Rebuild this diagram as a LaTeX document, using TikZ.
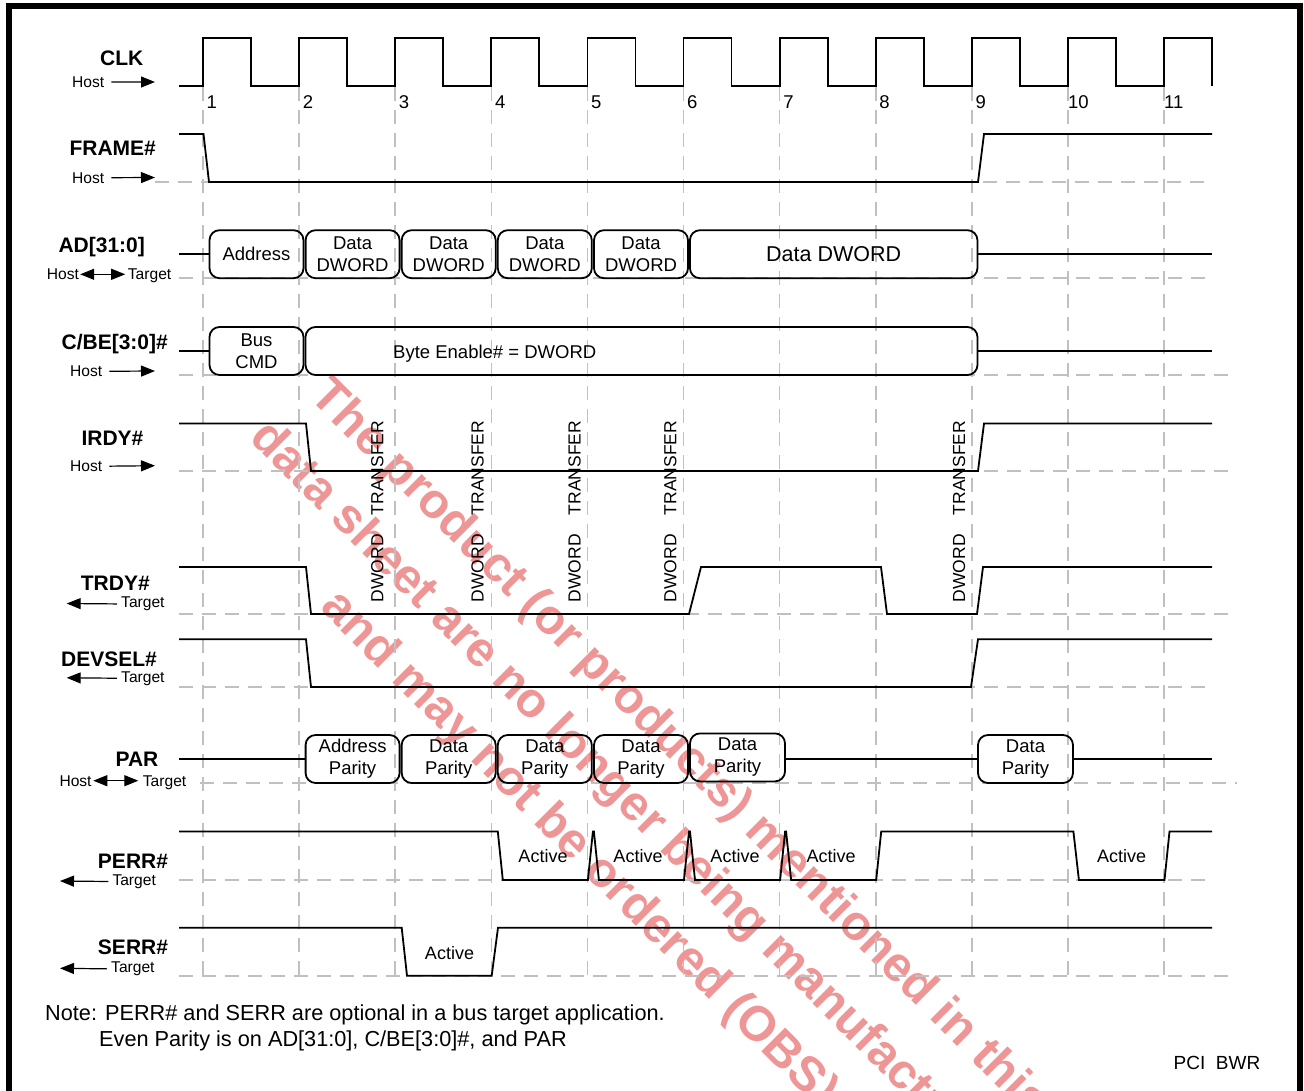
\documentclass[tikz,border=0pt]{standalone}
\usepackage{fontspec}
\setmainfont{Liberation Sans}
\usetikzlibrary{arrows.meta}

\definecolor{gridgray}{RGB}{192,192,192}
\definecolor{wmred}{RGB}{238,150,150}

\tikzset{
    sig/.style={line width=1.8pt},
    gridline/.style={draw=gridgray, line width=1.6pt, dash pattern=on 14pt off 9pt},
    busbox/.style={draw, line width=1.8pt, rounded corners=10pt, minimum height=48pt,
        inner sep=0pt, align=center, font=\fontsize{18.5}{22}\selectfont},
    sname/.style={inner sep=0pt, anchor=base, font=\fontsize{21}{25}\selectfont\bfseries},
    sdir/.style={inner sep=0pt, anchor=base west, font=\fontsize{15.6}{19}\selectfont},
    harrow/.style={line width=1.2pt, -{Triangle[length=14pt, width=11pt]}},
    hharrow/.style={line width=1.2pt, {Triangle[length=14pt, width=11pt]}-{Triangle[length=14pt, width=11pt]}},
    cnum/.style={inner sep=0pt, anchor=base west, font=\fontsize{18.5}{22}\selectfont},
    actlbl/.style={inner sep=0pt, font=\fontsize{18}{22}\selectfont},
    xfer/.style={inner sep=0pt, rotate=90, font=\fontsize{17.5}{21}\selectfont},
    notetext/.style={inner sep=0pt, anchor=base west, font=\fontsize{21.7}{26}\selectfont},
    wmtext/.style={inner sep=0pt, anchor=base, rotate=-45, text=wmred, font=\fontsize{49}{58}\selectfont\bfseries},
    declare function={clkx(\k)=203+96.1*(\k-1);}
}

\begin{document}
\begin{tikzpicture}[x=1pt, y=-1pt]
        \useasboundingbox (0,0) rectangle (1304,1091);
        \clip (0,0) rectangle (1304,1091);

        \node[wmtext] (wm1) at (669.7,758.8) {The product (or products) mentioned in this};
        \node[wmtext] (wm2) at (618.8,809.7) {data sheet are no longer being manufactured};
        \node[wmtext] (wm3) at (569.3,859.2) {and may not be ordered (OBS)};

        \foreach \k in {1,...,11}
            \draw[gridline] ({clkx(\k)},87) -- ({clkx(\k)},976);
        \foreach \yy/\xa/\xb in {182/155/1212, 278/179/1212, 375/179/1237, 471/179/1237,
                614/179/1237, 687/179/1212, 783/200/1237, 880/179/1212, 976/179/1237}
            \draw[gridline] (\xa,\yy) -- (\xb,\yy);

        \draw[sig] (179,86) \foreach \k in {1,...,11} { -- ({clkx(\k)},86) -- ++(0,-48) -- ++(48.05,0) -- ++(0,48) };
        \foreach \k in {1,...,11}
            \node[cnum] (num\k) at ({clkx(\k)+(\k<10 ? 3.5 : 0)},108.5) {\k};

        \node[sname] (clk) at (121.7,66) {CLK};
        \node[sdir] (clkhost) at (72,87.3) {Host};
        \coordinate (clktip) at (155,82);
        \draw[harrow, shorten <=7pt] (clkhost) -- (clktip);

        \node[sname] (frame) at (112.7,156) {FRAME\#};
        \node[sdir] (framehost) at (72,183.1) {Host};
        \coordinate (frametip) at (155,177.5);
        \draw[harrow, shorten <=7pt] (framehost) -- (frametip);
        \draw[sig] (179,134) -- (203.5,134) -- (209,182) -- (978,182) -- (984,134) -- (1212,134);

        \node[sname] (ad) at (101.7,253) {AD[31:0]};
        \node[sdir] (adhost) at (46.7,279.6) {Host};
        \node[sdir] (adtgt) at (127.7,279.6) {Target};
        \draw[hharrow, shorten <=1pt, shorten >=2.5pt] (adhost.east) -- (adhost.east -| adtgt.west);
        \coordinate (adstart) at (179,254.2);
        \coordinate (adend) at (1212,254.2);
        \node[busbox, minimum width=94] (ad1) at (256.5,254.2) {Address};
        \node[busbox, minimum width=94] (ad2) at (352.6,254.2) {Data\\DWORD};
        \node[busbox, minimum width=94] (ad3) at (448.7,254.2) {Data\\DWORD};
        \node[busbox, minimum width=94] (ad4) at (544.8,254.2) {Data\\DWORD};
        \node[busbox, minimum width=94] (ad5) at (641.0,254.2) {Data\\DWORD};
        \node[busbox, minimum width=287.5, font=\fontsize{21.5}{25}\selectfont] (ad6) at (833.7,254.2) {Data DWORD};
        \draw[sig] (adstart) -- (ad1);
        \draw[sig] (ad6) -- (adend);

        \node[sname] (cbe) at (114.7,349.5) {C/BE[3:0]\#};
        \node[sdir] (cbehost) at (70,376.7) {Host};
        \coordinate (cbetip) at (155,371);
        \draw[harrow, shorten <=7pt] (cbehost) -- (cbetip);
        \coordinate (cbestart) at (179,351);
        \coordinate (cbeend) at (1212,351);
        \node[busbox, minimum width=94] (cbe1) at (256.5,351) {Bus\\CMD};
        \node[busbox, minimum width=672] (cbe2) at (641.5,351) {};
        \node[inner sep=0pt, anchor=base west, font=\fontsize{18.5}{22}\selectfont] (cbetxt) at (393,358) {Byte Enable\# = DWORD};
        \draw[sig] (cbestart) -- (cbe1);
        \draw[sig] (cbe2) -- (cbeend);

        \node[sname] (irdy) at (112.5,445.5) {IRDY\#};
        \node[sdir] (irdyhost) at (70,471.7) {Host};
        \coordinate (irdytip) at (155,465.7);
        \draw[harrow, shorten <=7pt] (irdyhost) -- (irdytip);
        \draw[sig] (179,423.5) -- (306,423.5) -- (311,471) -- (978,471) -- (984,423.5) -- (1212,423.5);

        \foreach \xx [count=\i] in {377.3,477.7,574.5,670.3,959}
            \node[xfer] (xfer\i) at (\xx,511.5) {DWORD\hspace{19pt}TRANSFER};

        \node[sname] (trdy) at (115.3,590) {TRDY\#};
        \node[sdir] (trdytgt) at (121,607.9) {Target};
        \coordinate (trdytip) at (66.7,603.5);
        \draw[harrow, shorten <=4pt] (trdytgt) -- (trdytip);
        \draw[sig] (179,567) -- (306,567) -- (311,614) -- (689,614) -- (701,567) -- (881,567)
            -- (887,614) -- (977,614) -- (983,567) -- (1212,567);

        \node[sname] (devsel) at (109,666.5) {DEVSEL\#};
        \node[sdir] (devtgt) at (121,682.2) {Target};
        \coordinate (devtip) at (66.7,677.8);
        \draw[harrow, shorten <=4pt] (devtgt) -- (devtip);
        \draw[sig] (179,639.3) -- (306,639.3) -- (311,687) -- (971,687) -- (978,639.3) -- (1212,639.3);

        \node[sname] (par) at (137,766.5) {PAR};
        \node[sdir] (parhost) at (59.3,786) {Host};
        \node[sdir] (partgt) at (142.7,786) {Target};
        \draw[hharrow, shorten <=1.5pt, shorten >=4.4pt] (parhost.east) -- (parhost.east -| partgt.west);
        \coordinate (parstart) at (179,759);
        \coordinate (parend) at (1212,759);
        \node[busbox, minimum width=94] (par1) at (352.6,759) {Address\\Parity};
        \node[busbox, minimum width=94] (par2) at (448.7,759) {Data\\Parity};
        \node[busbox, minimum width=94] (par3) at (544.8,759) {Data\\Parity};
        \node[busbox, minimum width=94] (par4) at (641.0,759) {Data\\Parity};
        \node[busbox, minimum width=95] (par5) at (737.5,757.4) {Data\\Parity};
        \node[busbox, minimum width=95] (par6) at (1025.5,759) {Data\\Parity};
        \draw[sig] (parstart) -- (par1);
        \draw[sig] (par5.east |- par6.west) -- (par6.west);
        \draw[sig] (par6) -- (parend);

        \node[sname] (perr) at (133,868) {PERR\#};
        \node[sdir] (perrtgt) at (112.3,885.5) {Target};
        \coordinate (perrtip) at (60,881);
        \draw[harrow, shorten <=4pt] (perrtgt) -- (perrtip);
        \draw[sig] (179,831.5) -- (497.8,831.5) -- (502.8,880) -- (587.9,880) -- (592.9,831.5)
            -- (593.9,831.5) -- (598.9,880) -- (684,880) -- (689,831.5)
            -- (690,831.5) -- (695,880) -- (780.1,880) -- (785.1,831.5)
            -- (786.1,831.5) -- (791.1,880) -- (876.2,880) -- (881.2,831.5)
            -- (1073.4,831.5) -- (1078.9,880) -- (1164.5,880) -- (1169.5,831.5) -- (1212,831.5);
        \node[actlbl] (perract4) at (543,856.5) {Active};
        \node[actlbl] (perract5) at (638,856.5) {Active};
        \node[actlbl] (perract6) at (735,856.5) {Active};
        \node[actlbl] (perract7) at (831,856.5) {Active};
        \node[actlbl] (perract10) at (1121.7,856.5) {Active};

        \node[sname] (serr) at (133,954) {SERR\#};
        \node[sdir] (serrtgt) at (111,972.9) {Target};
        \coordinate (serrtip) at (60,968.3);
        \draw[harrow, shorten <=4pt] (serrtgt) -- (serrtip);
        \draw[sig] (179,927.7) -- (401.7,927.7) -- (407,975.7) -- (491.7,975.7) -- (498,927.7) -- (1212,927.7);
        \node[actlbl] (serract3) at (449.5,953) {Active};

        \node[notetext] (note1) at (45,1020.7) {Note: PERR\# and SERR are optional in a bus target application.};
        \node[notetext] (note2) at (99,1046.5) {Even Parity is on AD[31:0], C/BE[3:0]\#, and PAR};
        \node[inner sep=0pt, anchor=base west, font=\fontsize{19}{23}\selectfont] (pcibwr) at (1173.5,1069.3) {PCI\ \ BWR};

        \draw[line width=6pt] (9,6) rectangle (1300,1100);
\end{tikzpicture}
\end{document}
